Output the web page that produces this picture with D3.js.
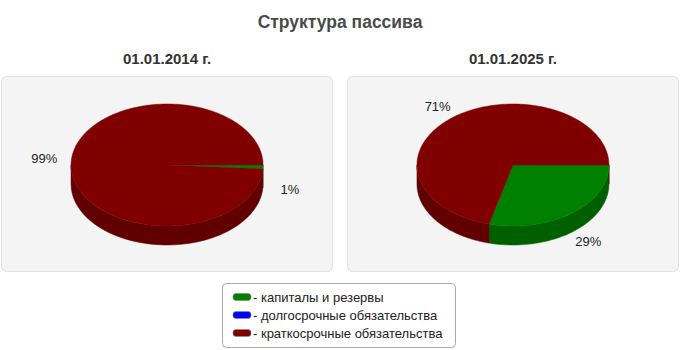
<!DOCTYPE html>
<html><head><meta charset="utf-8">
<script src="https://cdn.jsdelivr.net/npm/d3@7"></script>
<style>body{margin:0;background:#fff;}svg{display:block;font-family:Arial,"Liberation Sans",sans-serif;}</style>
</head><body><svg id="c" width="680" height="350"></svg>
<script>
const title = "Структура пассива";
const periods = ["01.01.2014 г.", "01.01.2025 г."];
const categories = ["капиталы и резервы", "долгосрочные обязательства", "краткосрочные обязательства"];
const values2014 = [1, 0, 99];
const values2025 = [29, 0, 71];
const colors = ["#008000", "#0000ff", "#800000"];
const sideColors = ["#006000", "#0000a0", "#600000"];

const svg = d3.select("#c");
svg.append("text").attr("x", 340).attr("y", 28).attr("text-anchor", "middle")
  .attr("font-size", 17.5).attr("font-weight", "bold").attr("fill", "#4a4a4a").text(title);

const panelX = d3.scaleBand().domain(periods).range([1, 679]).paddingInner(0.04);
const series = [values2014, values2025];
const rx = 96, ry = 61, depth = 19, cy = 165;

function pt(cx, a, r1, r2, dy) { return [cx + r1 * Math.sin(a), cy + dy - r2 * Math.cos(a)]; }

periods.forEach((p, i) => {
  const x0 = panelX(p), w = panelX.bandwidth();
  const cx = x0 + w / 2;
  svg.append("rect").attr("x", x0 + 0.5).attr("y", 76.5).attr("width", w - 1).attr("height", 195)
    .attr("rx", 5).attr("fill", "#f4f4f4").attr("stroke", "#e2e2e2");
  svg.append("text").attr("x", cx).attr("y", 64).attr("text-anchor", "middle")
    .attr("font-size", 15).attr("font-weight", "bold").attr("fill", "#333").text(p);

  const total = d3.sum(series[i]);
  const pie = d3.pie().sort(null).startAngle(Math.PI / 2).endAngle(Math.PI / 2 + 2 * Math.PI);
  const arcs = pie(series[i]).map((d, k) => ({ ...d, k }));
  const g = svg.append("g");
  // sides (front half)
  arcs.forEach(d => {
    if (d.value <= 0) return;
    [0, 2 * Math.PI].forEach(off => {
      const s = Math.max(d.startAngle, Math.PI / 2 + off), e = Math.min(d.endAngle, 3 * Math.PI / 2 + off);
      if (e <= s) return;
      const n = 60, pts = [];
      for (let j = 0; j <= n; j++) pts.push(pt(cx, s + (e - s) * j / n, rx, ry, 0));
      for (let j = n; j >= 0; j--) pts.push(pt(cx, s + (e - s) * j / n, rx, ry, depth));
      g.append("path").attr("d", "M" + pts.map(q => q.join(",")).join("L") + "Z")
        .attr("fill", sideColors[d.k]).attr("stroke", sideColors[d.k]).attr("stroke-width", 0.5);
    });
  });
  // tops
  arcs.forEach(d => {
    if (d.value <= 0) return;
    const n = Math.max(4, Math.ceil((d.endAngle - d.startAngle) / (2 * Math.PI) * 240)), pts = [[cx, cy]];
    for (let j = 0; j <= n; j++) pts.push(pt(cx, d.startAngle + (d.endAngle - d.startAngle) * j / n, rx, ry, 0));
    g.append("path").attr("d", "M" + pts.map(q => q.join(",")).join("L") + "Z")
      .attr("fill", colors[d.k]).attr("stroke", colors[d.k]).attr("stroke-width", 0.5);
  });
  // labels
  arcs.forEach(d => {
    if (d.value <= 0) return;
    const m = (d.startAngle + d.endAngle) / 2;
    const q = pt(cx, m, rx * 1.28, ry * 1.14, 0);
    const front = -Math.cos(m) > 0;
    g.append("text").attr("x", q[0]).attr("y", q[1] + (front ? 22 : -4)).attr("dy", "0.35em")
      .attr("text-anchor", "middle").attr("font-size", 13).attr("fill", "#222")
      .text(Math.round(d.value / total * 100) + "%");
  });
});

// legend
const lg = svg.append("g");
lg.append("rect").attr("x", 222.5).attr("y", 283.5).attr("width", 233).attr("height", 64)
  .attr("rx", 4).attr("fill", "#fff").attr("stroke", "#aaa");
const ly = d3.scalePoint().domain(categories).range([297, 333]);
categories.forEach((c, k) => {
  lg.append("rect").attr("x", 233).attr("y", ly(c) - 3.5).attr("width", 18).attr("height", 7)
    .attr("rx", 3).attr("fill", colors[k]).attr("stroke", "#888").attr("stroke-width", 0.6);
  lg.append("text").attr("x", 253).attr("y", ly(c)).attr("dy", "0.35em")
    .attr("font-size", 13).attr("fill", "#222").text("- " + c);
});
</script></body></html>
